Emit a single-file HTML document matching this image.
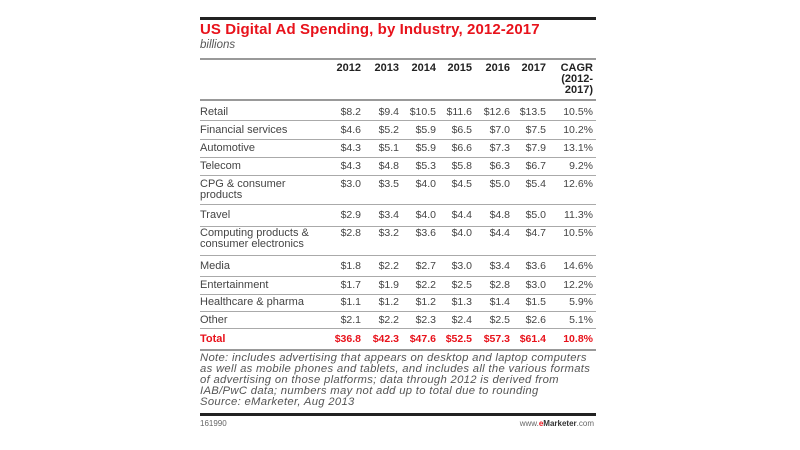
<!DOCTYPE html>
<html><head><meta charset="utf-8"><style>
body{margin:0;width:800px;height:450px;background:#fff;position:relative;overflow:hidden;font-family:"Liberation Sans",sans-serif;color:#444}
.a{position:absolute;white-space:nowrap;line-height:11px;font-size:10.5px}
.lb{font-size:11px}
.r{text-align:right}
.l{position:absolute;left:200px;width:396px;height:1px;background:#aaa}
.h{font-weight:bold;color:#222;font-size:11px}
.t{color:#e8121b;font-weight:bold}
</style></head><body>
<div style="position:absolute;left:200px;top:17px;width:396px;height:3px;background:#222"></div>
<div class="a" style="left:200px;top:21px;font-size:15px;line-height:18px;font-weight:bold;color:#e8121b;letter-spacing:0.1px">US Digital Ad Spending, by Industry, 2012-2017</div>
<div class="a" style="left:200px;top:40px;font-size:11.5px;font-style:italic;color:#555">billions</div>
<div class="l" style="top:58px;height:2px;background:#999"></div>
<div class="l" style="top:99px;height:2px;background:#999"></div>
<div class="l" style="top:120px"></div>
<div class="l" style="top:139px"></div>
<div class="l" style="top:157px"></div>
<div class="l" style="top:175px"></div>
<div class="l" style="top:204px"></div>
<div class="l" style="top:226px"></div>
<div class="l" style="top:255px"></div>
<div class="l" style="top:276px"></div>
<div class="l" style="top:294px"></div>
<div class="l" style="top:311px"></div>
<div class="l" style="top:328px"></div>
<div class="l" style="top:349px;height:2px;background:#999"></div>
<div style="position:absolute;left:200px;top:413px;width:396px;height:3px;background:#222"></div>
<div id="g"></div>
<div class="a" style="left:200px;top:353px;font-size:11.3px;letter-spacing:0.3px;font-style:italic;color:#555;line-height:11px">Note: includes advertising that appears on desktop and laptop computers<br>as well as mobile phones and tablets, and includes all the various formats<br>of advertising on those platforms; data through 2012 is derived from<br>IAB/PwC data; numbers may not add up to total due to rounding<br>Source: eMarketer, Aug 2013</div>
<div class="a" style="left:200px;top:418px;font-size:8px;color:#666">161990</div>
<div class="a" style="left:500px;top:418px;width:94px;text-align:right;font-size:8px;color:#666">www.<b style="color:#e8121b">e</b><b style="color:#333">Marketer</b>.com</div>
<script>
var R=[361,399,436,472,510,546,593];
var H=["2012","2013","2014","2015","2016","2017","CAGR"];
var out="";
function cell(x,y,t,c){out+='<div class="a r '+(c||'')+'" style="left:'+(x-60)+'px;width:60px;top:'+(y-5.5)+'px">'+t+'</div>';}
function lab(y,t,c){out+='<div class="a lb '+(c||'')+'" style="left:200px;top:'+(y-5.5)+'px">'+t+'</div>';}
H.forEach(function(h,i){cell(R[i],68,h,'h');});
cell(593,79,"(2012-",'h');cell(593,90,"2017)",'h');
var D=[
[112,"Retail","$8.2 $9.4 $10.5 $11.6 $12.6 $13.5 10.5%"],
[130,"Financial services","$4.6 $5.2 $5.9 $6.5 $7.0 $7.5 10.2%"],
[148,"Automotive","$4.3 $5.1 $5.9 $6.6 $7.3 $7.9 13.1%"],
[166,"Telecom","$4.3 $4.8 $5.3 $5.8 $6.3 $6.7 9.2%"],
[184,"CPG &amp; consumer<br>products","$3.0 $3.5 $4.0 $4.5 $5.0 $5.4 12.6%"],
[215,"Travel","$2.9 $3.4 $4.0 $4.4 $4.8 $5.0 11.3%"],
[233,"Computing products &amp;<br>consumer electronics","$2.8 $3.2 $3.6 $4.0 $4.4 $4.7 10.5%"],
[266,"Media","$1.8 $2.2 $2.7 $3.0 $3.4 $3.6 14.6%"],
[285,"Entertainment","$1.7 $1.9 $2.2 $2.5 $2.8 $3.0 12.2%"],
[302,"Healthcare &amp; pharma","$1.1 $1.2 $1.2 $1.3 $1.4 $1.5 5.9%"],
[320,"Other","$2.1 $2.2 $2.3 $2.4 $2.5 $2.6 5.1%"],
[339,"Total","$36.8 $42.3 $47.6 $52.5 $57.3 $61.4 10.8%","t"]];
D.forEach(function(d){lab(d[0],d[1],d[3]);d[2].split(" ").forEach(function(v,i){cell(R[i],d[0],v,d[3]);});});
document.getElementById("g").innerHTML=out;
</script>
</body></html>
